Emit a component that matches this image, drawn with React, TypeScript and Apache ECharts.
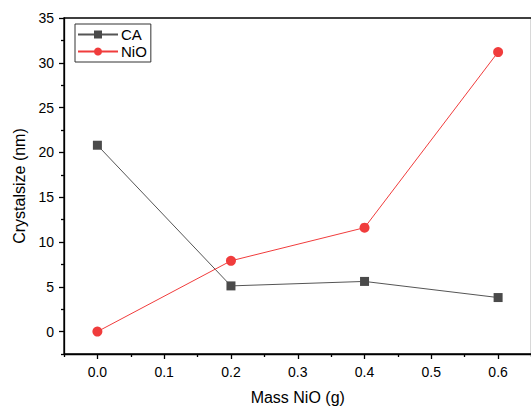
import React, { useEffect, useRef } from "react";
import * as echarts from "echarts";

const xValues = [0, 0.2, 0.4, 0.6];
const caValues = [20.8, 5.1, 5.6, 3.8];
const nioValues = [0, 7.9, 11.6, 31.2];
const xMajorTicks = [0, 0.1, 0.2, 0.3, 0.4, 0.5, 0.6];
const xMinorTicks = [-0.05, 0.05, 0.15, 0.25, 0.35, 0.45, 0.55, 0.65];
const yMajorTicks = [0, 5, 10, 15, 20, 25, 30, 35];
const yMinorTicks = [-2.5, 2.5, 7.5, 12.5, 17.5, 22.5, 27.5, 32.5];

const FONT = "Liberation Sans, Arial, sans-serif";

export default function App() {
  const ref = useRef<HTMLDivElement>(null);
  useEffect(() => {
    document.body.style.margin = "0";
    document.body.style.overflow = "hidden";
    const chart = echarts.init(ref.current!, null, { renderer: "svg" });
    const axisLine = { show: true, onZero: false, lineStyle: { color: "#000", width: 1.3 } };
    chart.setOption({
      animation: false,
      backgroundColor: "#fff",
      grid: {
        left: 64,
        top: 18,
        width: 467.5,
        height: 336,
        containLabel: false,
        outerBoundsMode: "none",
        show: true,
        borderColor: "#000",
        borderWidth: 1.3,
        backgroundColor: "transparent",
      },
      legend: {
        orient: "vertical",
        left: 75,
        top: 24,
        padding: [3, 4, 3, 2],
        itemGap: 2,
        itemWidth: 40,
        itemHeight: 10,
        borderColor: "#333",
        borderWidth: 1,
        textStyle: { fontFamily: FONT, fontSize: 15, color: "#000", padding: [0, 0, 0, -2] },
        data: ["CA", "NiO"],
      },
      xAxis: [
        {
          type: "value",
          min: -0.05,
          max: 0.65,
          position: "bottom",
          axisLine,
          splitLine: { show: false },
          axisTick: { show: true, length: 5, customValues: xMajorTicks, lineStyle: { color: "#000", width: 1.3 } },
          axisLabel: {
            customValues: xMajorTicks,
            formatter: (v: number) => v.toFixed(1),
            fontFamily: FONT,
            fontSize: 14,
            color: "#000",
            margin: 11,
          },
          name: "Mass NiO (g)",
          nameLocation: "middle",
          nameGap: 35,
          nameTextStyle: { fontFamily: FONT, fontSize: 16, color: "#000" },
        },
        {
          type: "value",
          min: -0.05,
          max: 0.65,
          position: "bottom",
          offset: 0,
          axisLine: { show: false, onZero: false },
          splitLine: { show: false },
          axisTick: { show: true, length: 3, customValues: xMinorTicks, lineStyle: { color: "#000", width: 1.3 } },
          axisLabel: { show: false },
        },
      ],
      yAxis: [
        {
          type: "value",
          min: -2.5,
          max: 35,
          position: "left",
          axisLine,
          splitLine: { show: false },
          axisTick: { show: true, length: 5, customValues: yMajorTicks, lineStyle: { color: "#000", width: 1.3 } },
          axisLabel: {
            customValues: yMajorTicks,
            fontFamily: FONT,
            fontSize: 14,
            color: "#000",
            margin: 10,
          },
          name: "Crystalsize (nm)",
          nameLocation: "middle",
          nameGap: 35,
          nameTextStyle: { fontFamily: FONT, fontSize: 16, color: "#000" },
        },
        {
          type: "value",
          min: -2.5,
          max: 35,
          position: "left",
          offset: 0,
          axisLine: { show: false, onZero: false },
          splitLine: { show: false },
          axisTick: { show: true, length: 3, customValues: yMinorTicks, lineStyle: { color: "#000", width: 1.3 } },
          axisLabel: { show: false },
        },
      ],
      series: [
        {
          name: "CA",
          type: "line",
          xAxisIndex: 0,
          yAxisIndex: 0,
          data: xValues.map((x, i) => [x, caValues[i]]),
          symbol: "rect",
          symbolSize: 9,
          itemStyle: { color: "#4a4a4a" },
          lineStyle: { color: "#555", width: 1 },
        },
        {
          name: "NiO",
          type: "line",
          xAxisIndex: 0,
          yAxisIndex: 0,
          data: xValues.map((x, i) => [x, nioValues[i]]),
          symbol: "circle",
          symbolSize: 10,
          itemStyle: { color: "#f03c3c" },
          lineStyle: { color: "#f03c3c", width: 1 },
        },
      ],
    });
    return () => chart.dispose();
  }, []);
  return <div ref={ref} style={{ position: "absolute", left: 0, top: 0, width: 531, height: 408 }} />;
}
